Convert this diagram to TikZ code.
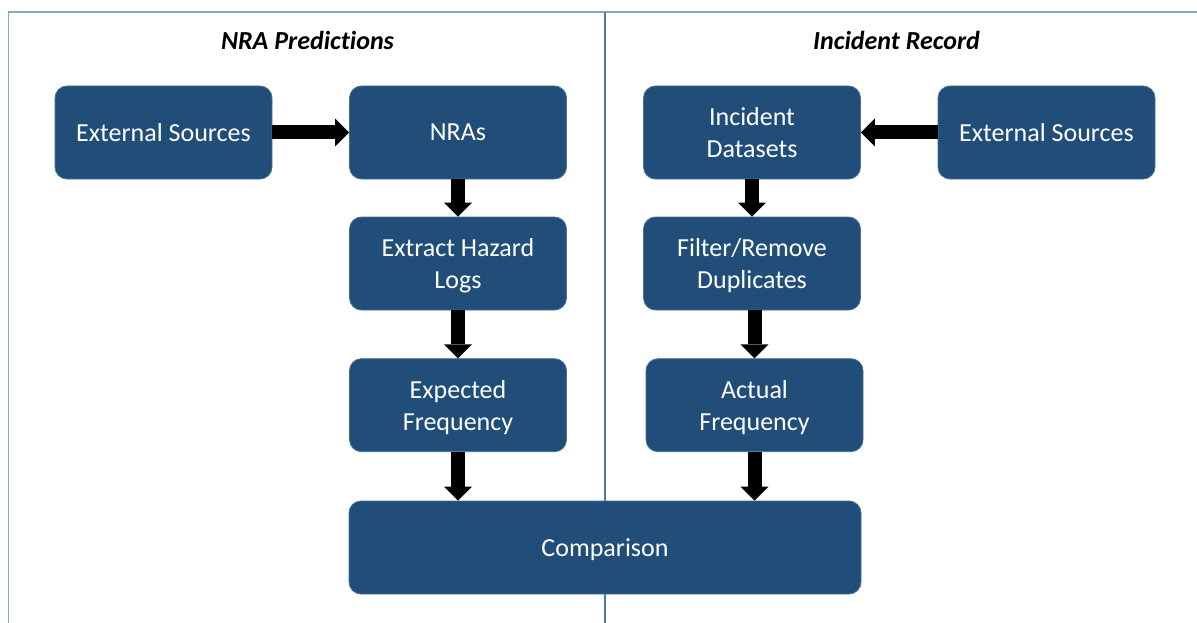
\documentclass[tikz,border=0pt]{standalone}
\usepackage{fontspec}
\setmainfont{Carlito}[Ligatures={NoCommon}]
\usetikzlibrary{arrows.meta}
\definecolor{boxfill}{RGB}{32,78,121}
\definecolor{boxedge}{RGB}{70,112,152}
\definecolor{framecol}{RGB}{136,164,200}
\definecolor{divcol}{RGB}{80,122,172}
\tikzset{
  procbox/.style={rectangle, rounded corners=12pt, fill=boxfill, draw=boxedge, line width=0.8pt,
    text=white, inner sep=0pt, minimum height=93pt, minimum width=217pt, align=center,
    text depth=0pt, font=\fontsize{26}{32}\selectfont},
  title/.style={anchor=base, font=\fontsize{26}{32}\selectfont\bfseries\itshape},
  flow/.style={line width=14pt, draw=black, -{Triangle[length=14pt 0, width=28pt 0, line width=0pt 0]}}
}
\begin{document}
\begin{tikzpicture}[x=1pt,y=-1pt]
\useasboundingbox (0,0) rectangle (1197,623);
\fill[white] (0,0) rectangle (1197,623);
% frame and divider
\draw[framecol, line width=1.8pt] (8.5,640) -- (8.5,12) -- (1210,12);
\draw[divcol, line width=1.6pt] (605,12) -- (605,640);
% titles
\node[title] (t1) at (307.5,49.5) {NRA Predictions};
\node[title] (t2) at (896.5,49.5) {Incident Record};
% boxes
\node[procbox] (extL) at (163.5,132.5) {External Sources};
\node[procbox] (nras) at (458,132.5) {NRAs};
\node[procbox] (extract) at (458,263.5) {Extract Hazard\\Logs};
\node[procbox] (expected) at (458,405.2) {Expected\\Frequency};
\node[procbox, minimum width=512pt] (comp) at (605,547.5) {Comparison};
\node[procbox] (incid) at (752,132.5) {Incident\\Datasets};
\node[procbox] (filter) at (752,263.5) {Filter/Remove\\Duplicates};
\node[procbox] (actual) at (754.5,405.2) {Actual\\Frequency};
\node[procbox] (extR) at (1046.5,132.5) {External Sources};
% arrows
\draw[flow] (extL.east) -- (nras.west);
\draw[flow] (extR.west) -- (incid.east);
\draw[flow] (nras.south) -- (extract.north);
\draw[flow] (extract.south) -- (expected.north);
\draw[flow] (expected.south) -- (expected.south |- comp.north);
\draw[flow] (incid.south) -- (filter.north);
\draw[flow] (filter.south -| actual.south) -- (actual.north);
\draw[flow] (actual.south) -- (actual.south |- comp.north);
\end{tikzpicture}
\end{document}
